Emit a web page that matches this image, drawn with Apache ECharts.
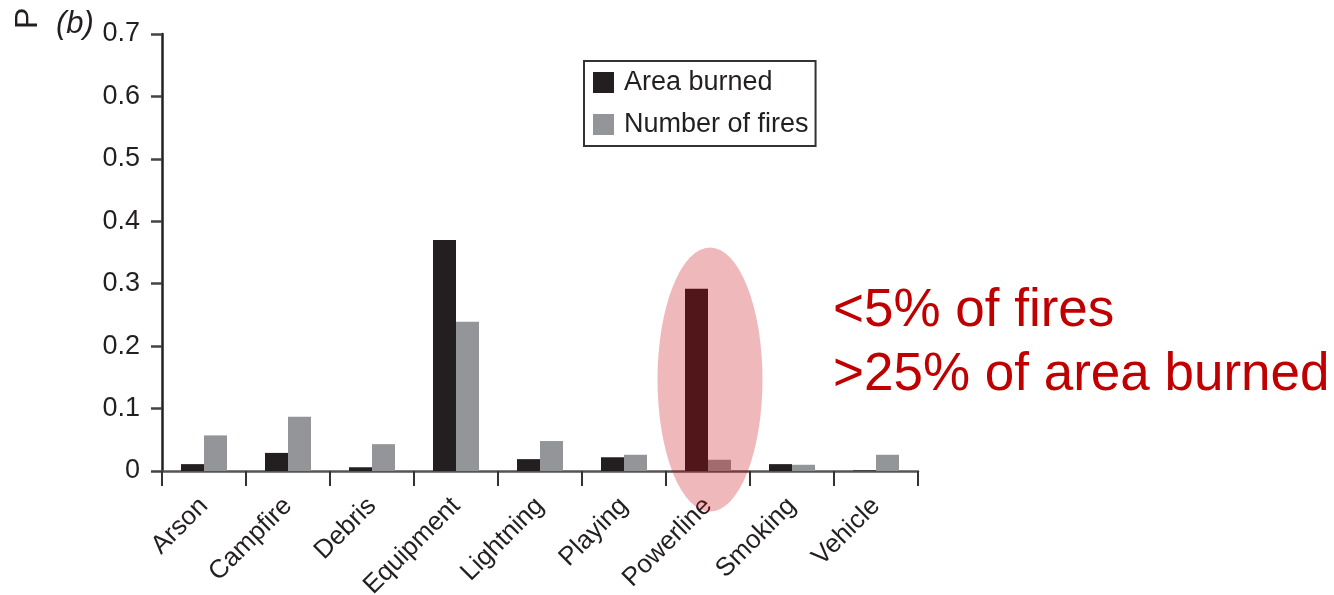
<!DOCTYPE html>
<html>
<head>
<meta charset="utf-8">
<script src="https://cdn.jsdelivr.net/npm/echarts@6/dist/echarts.min.js"></script>
<style>
html,body{margin:0;padding:0;background:#fff;}
#chart{width:1334px;height:595px;}
</style>
</head>
<body>
<div id="chart"></div>
<script>
const categories = ['Arson','Campfire','Debris','Equipment','Lightning','Playing','Powerline','Smoking','Vehicle'];
const areaBurned = [0.011, 0.029, 0.006, 0.37, 0.019, 0.022, 0.292, 0.011, 0.001];
const numberOfFires = [0.057, 0.087, 0.043, 0.239, 0.048, 0.026, 0.018, 0.010, 0.026];
const yTicks = [0, 0.1, 0.2, 0.3, 0.4, 0.5, 0.6, 0.7];
const seriesNames = ['Area burned', 'Number of fires'];
const annotationLines = ['<5% of fires', '>25% of area burned'];
const highlightCategory = 'Powerline';

const FONT = '"Liberation Sans", Arial, Helvetica, sans-serif';
const chart = echarts.init(document.getElementById('chart'), null, {renderer: 'canvas'});

const option = {
  animation: false,
  backgroundColor: '#ffffff',
  textStyle: {fontFamily: FONT},
  grid: {left: 162, right: 416, top: 34, bottom: 124, containLabel: false, outerBoundsMode: 'none'},
  legend: {
    orient: 'vertical',
    left: 584,
    top: 61,
    data: seriesNames,
    icon: 'rect',
    itemWidth: 21,
    itemHeight: 21,
    itemGap: 15,
    padding: [8, 7, 8, 9],
    borderColor: '#333',
    borderWidth: 2,
    textStyle: {fontSize: 27, color: '#231f20', fontFamily: FONT, padding: [0, 0, 0, 5]}
  },
  xAxis: {
    type: 'category',
    data: categories,
    boundaryGap: true,
    axisLine: {lineStyle: {color: '#555', width: 2.5}},
    axisTick: {show: true, interval: 0, length: 15, lineStyle: {color: '#333', width: 2}},
    axisLabel: {interval: 0, rotate: 45, fontSize: 26, color: '#231f20', margin: 31, fontFamily: FONT}
  },
  yAxis: {
    type: 'value',
    min: yTicks[0],
    max: yTicks[yTicks.length - 1],
    interval: 0.1,
    splitLine: {show: false},
    axisLine: {show: true, lineStyle: {color: '#231f20', width: 2.5}},
    axisTick: {show: true, length: 11, lineStyle: {color: '#444', width: 2.5}},
    axisLabel: {fontSize: 27, color: '#231f20', margin: 22, fontFamily: FONT,
      formatter: function (v) { return String(Math.round(v * 10) / 10); }}
  },
  series: [
    {name: seriesNames[0], type: 'bar', data: areaBurned, barWidth: 23, barGap: '0%',
     itemStyle: {color: '#231f20'}},
    {name: seriesNames[1], type: 'bar', data: numberOfFires, barWidth: 23, barGap: '0%',
     itemStyle: {color: '#939598'}}
  ]
};
chart.setOption(option);

const cx = chart.convertToPixel({xAxisIndex: 0}, highlightCategory);
const cyTop = chart.convertToPixel({yAxisIndex: 0}, 0.358);
const cyBot = chart.convertToPixel({yAxisIndex: 0}, -0.065);
const cy = (cyTop + cyBot) / 2;
const ry = (cyBot - cyTop) / 2;
const rx = 52.5;

chart.setOption({
  graphic: [
    {type: 'circle', shape: {cx: 0, cy: 0, r: ry}, x: cx + 2, y: cy, scaleX: rx / ry, scaleY: 1,
     style: {fill: 'rgba(196,0,10,0.28)'}, z: 100},
    {type: 'text', left: 833, top: 285, z: 100,
     style: {text: annotationLines[0], font: '53px ' + FONT, fill: '#c00000'}},
    {type: 'text', left: 833, top: 349, z: 100,
     style: {text: annotationLines[1], font: '53px ' + FONT, fill: '#c00000'}},
    {type: 'text', x: 12, y: 29, rotation: Math.PI / 2, z: 100,
     style: {text: 'P', font: '32px ' + FONT, fill: '#231f20'}},
    {type: 'text', left: 56, top: 9, z: 100,
     style: {text: '(b)', font: 'italic 31px ' + FONT, fill: '#231f20'}}
  ]
});
</script>
</body>
</html>
